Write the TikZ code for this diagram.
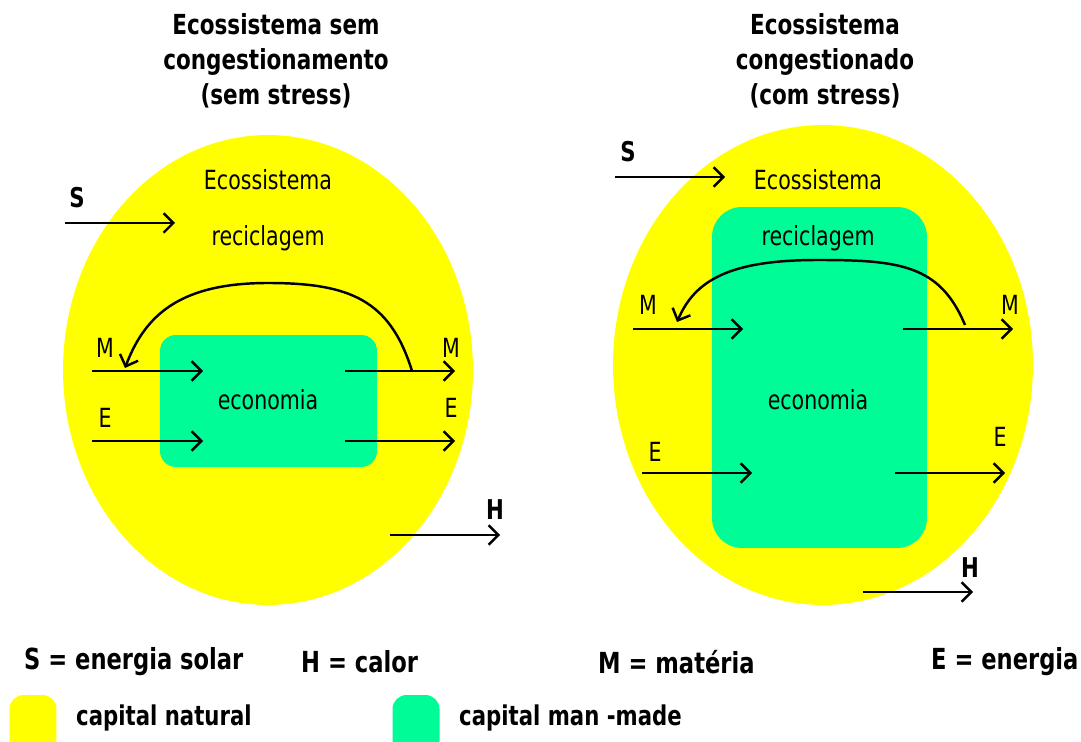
\documentclass[tikz,border=0pt]{standalone}
\usepackage{fontspec}
\setmainfont{DejaVu Sans}[FakeStretch=0.78]
\usetikzlibrary{arrows.meta,shapes.geometric}
\definecolor{natyellow}{RGB}{255,255,0}
\definecolor{mangreen}{RGB}{0,252,150}

\begin{document}
\begin{tikzpicture}[x=0.02cm,y=-0.02cm,>={Straight Barb[length=5.5pt,width=11pt]},line width=1.4pt,
		every node/.style={font=\fontsize{15}{18}\selectfont,inner sep=0pt},
		natcap/.style={ellipse,fill=natyellow,draw=none},
		mancap/.style={rectangle,fill=mangreen,draw=none},
		titletext/.style={align=center,font=\fontsize{15.7}{19.8}\selectfont\bfseries},
		keytext/.style={anchor=west,font=\fontsize{16.5}{18}\selectfont\bfseries},
		boldlbl/.style={font=\fontsize{15.5}{18}\selectfont\bfseries}]
		 \useasboundingbox (0,0) rectangle (1081,742);
		 % titles
		 \node[titletext]        (t1)   at (276,61)      {Ecossistema sem\\congestionamento\\(sem stress)};
		 \node[titletext]        (t2)   at (825,61)      {Ecossistema\\congestionado\\(com stress)};
		 % ecosystems and economies
		 \node[natcap, minimum width=8.2cm, minimum height=9.4cm]  (eco1)  at (268,370)  {};
		 \node[natcap, minimum width=8.4cm, minimum height=9.6cm]  (eco2)  at (823,365)  {};
		 \node[mancap, minimum width=4.34cm, minimum height=2.64cm, rounded corners=9pt]  (econ1) at (268.5,401) {};
		 \node[mancap, minimum width=4.3cm, minimum height=6.82cm, rounded corners=17pt]  (econ2) at (819.5,377.5) {};
		 % texts
		 \node                   (ecoL)  at (268,180)    {Ecossistema};
		 \node                   (recL)  at (268,238)    {reciclagem};
		 \node                   (ecnL)  at (268,400)    {economia};
		 \node                   (ecoR)  at (818,180)    {Ecossistema};
		 \node                   (recR)  at (818,238)    {reciclagem};
		 \node                   (ecnR)  at (818,400)    {economia};
		 % labels
		 \node[boldlbl]          (sL)    at (77,198)     {S};
		 \node                   (mL1)   at (105,348)    {M};
		 \node                   (eL1)   at (105,418)    {E};
		 \node                   (mL2)   at (451,348)    {M};
		 \node                   (eL2)   at (451,408)    {E};
		 \node[boldlbl]          (hL)    at (495,510)    {H};
		 \node[boldlbl]          (sR)    at (628,152)    {S};
		 \node                   (mR1)   at (648,305)    {M};
		 \node                   (eR1)   at (655,452)    {E};
		 \node                   (mR2)   at (1010,305)   {M};
		 \node                   (eR2)   at (1000,437)   {E};
		 \node[boldlbl]          (hR)    at (970,568)    {H};
		 % arrow ends
		 \coordinate (sL1) at (65,223);   \coordinate (sL2) at (175,223);
		 \coordinate (mLa) at (92,371);   \coordinate (mLb) at (203,371);
		 \coordinate (eLa) at (92,441);   \coordinate (eLb) at (203,441);
		 \coordinate (mLc) at (345,371);  \coordinate (mLd) at (455,371);
		 \coordinate (eLc) at (345,441);  \coordinate (eLd) at (455,441);
		 \coordinate (hL1) at (390,535);  \coordinate (hL2) at (500,535);
		 \coordinate (rL1) at (412,371);  \coordinate (rL2) at (268,283);  \coordinate (rL3) at (125,368);
		 \coordinate (sR1) at (615,177);  \coordinate (sR2) at (725,177);
		 \coordinate (mRa) at (633,329);  \coordinate (mRb) at (743,329);
		 \coordinate (eRa) at (642,473);  \coordinate (eRb) at (752,473);
		 \coordinate (mRc) at (903,329);  \coordinate (mRd) at (1013,329);
		 \coordinate (eRc) at (895,473);  \coordinate (eRd) at (1005,473);
		 \coordinate (hR1) at (863,592);  \coordinate (hR2) at (973,592);
		 \coordinate (rR1) at (965,325);  \coordinate (rR2) at (818,260);  \coordinate (rR3) at (677,322);

		 \draw[->] (sL1) -- (sL2);
		 \draw[->] (mLa) -- (mLb);
		 \draw[->] (eLa) -- (eLb);
		 \draw[->] (mLc) -- (mLd);
		 \draw[->] (eLc) -- (eLd);
		 \draw[->] (hL1) -- (hL2);
		 \draw[->] (rL1) .. controls (390,300) and (350,283) .. (rL2) .. controls (180,283) and (145,315) .. (rL3);
		 \draw[->] (sR1) -- (sR2);
		 \draw[->] (mRa) -- (mRb);
		 \draw[->] (eRa) -- (eRb);
		 \draw[->] (mRc) -- (mRd);
		 \draw[->] (eRc) -- (eRd);
		 \draw[->] (hR1) -- (hR2);
		 \draw[->] (rR1) .. controls (940,265) and (900,260) .. (rR2) .. controls (730,260) and (695,280) .. (rR3);
		 % key
		 \node[keytext]          (k1)    at (23,662)     {S = energia solar};
		 \node[keytext]          (k2)    at (300,662)    {H = calor};
		 \node[keytext]          (k3)    at (597,662)    {M = matéria};
		 \node[keytext]          (k4)    at (930,662)    {E = energia};
		 \node[natcap, rectangle, rounded corners=8pt, minimum width=0.94cm, minimum height=1.2cm] (sw1) at (33,725) {};
		 \node[mancap, rounded corners=8pt, minimum width=0.94cm, minimum height=1.2cm] (sw2) at (416,725) {};
		 \node[keytext, font=\fontsize{15.5}{18}\selectfont\bfseries] (k5) at (75,718)  {capital natural};
		 \node[keytext, font=\fontsize{15.5}{18}\selectfont\bfseries] (k6) at (458,718) {capital man -made};
	\end{tikzpicture}
\end{document}
